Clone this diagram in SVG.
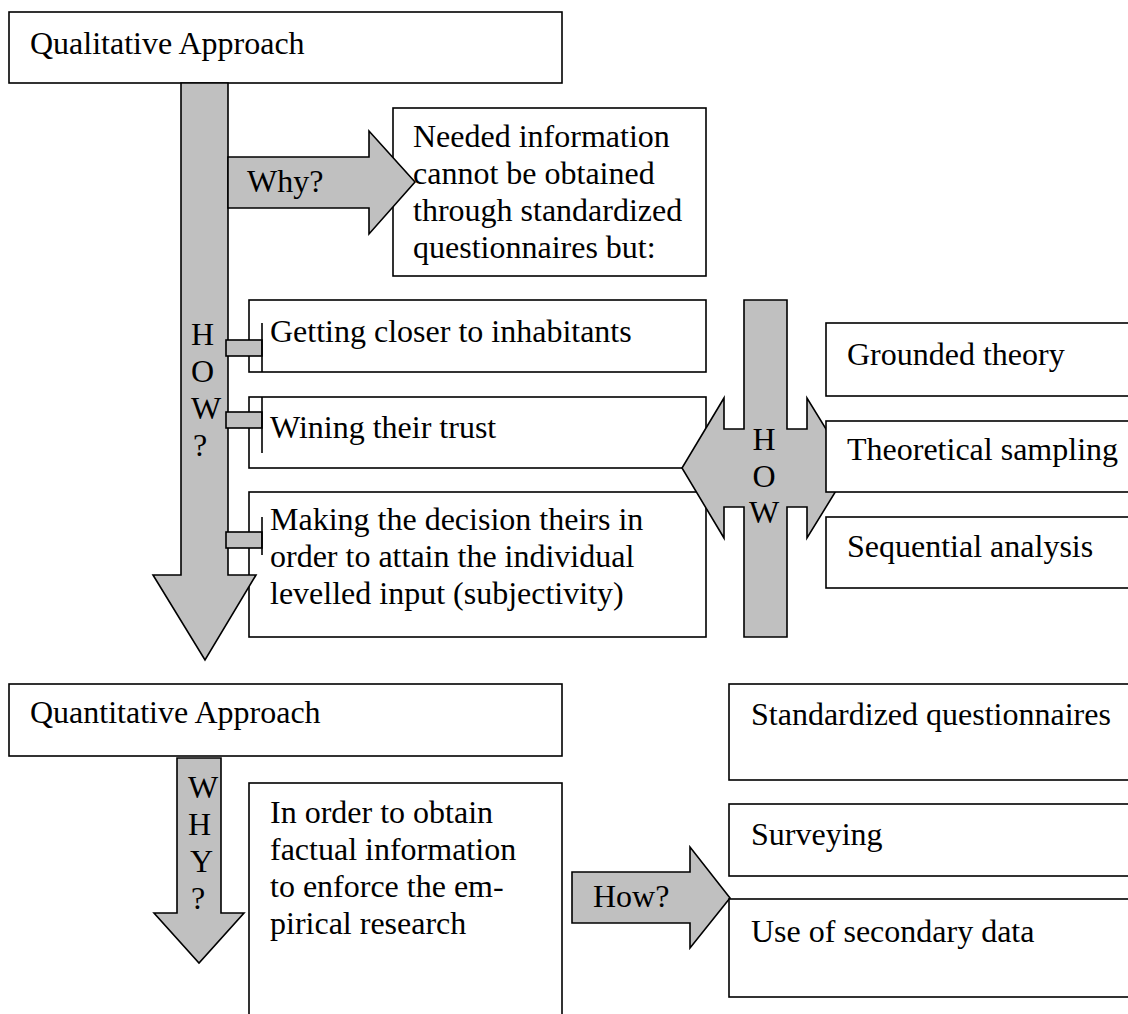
<svg xmlns="http://www.w3.org/2000/svg" width="1128" height="1014" viewBox="0 0 1128 1014">
<style>
.box{fill:#fff;stroke:#000;stroke-width:1.6}
.arr{fill:#c0c0c0;stroke:#000;stroke-width:1.6;stroke-linejoin:miter}
.ln{fill:none;stroke:#000;stroke-width:1.6}
text{font-family:"Liberation Serif","Times New Roman",serif;font-size:32px;fill:#000}
.mid{text-anchor:middle}
</style>
<rect width="1128" height="1014" fill="#fff"/>

<g id="qualitative">
<rect class="box" x="9" y="12" width="553" height="71"/>
<text x="30" y="54">Qualitative Approach</text>
</g>
<g id="needed">
<rect class="box" x="393" y="108" width="313" height="168"/>
<text x="413" y="147">Needed information</text>
<text x="413" y="184">cannot be obtained</text>
<text x="413" y="221">through standardized</text>
<text x="413" y="258">questionnaires but:</text>
</g>
<g id="getting">
<rect class="box" x="249" y="300" width="457" height="72"/>
<text x="270" y="342">Getting closer to inhabitants</text>
</g>
<g id="wining">
<rect class="box" x="249" y="397" width="457" height="71"/>
<text x="270" y="438">Wining their trust</text>
</g>
<g id="making">
<rect class="box" x="249" y="492" width="457" height="145"/>
<text x="270" y="530">Making the decision theirs in</text>
<text x="270" y="567">order to attain the individual</text>
<text x="270" y="604">levelled input (subjectivity)</text>
</g>

<g id="connectors">
<g id="how-down">
<polygon class="arr" points="181,83 228,83 228,575 256,575 205,660 153,575 181,575"/>
<text x="191" y="345">H</text>
<text x="191" y="382">O</text>
<text x="191" y="419">W</text>
<text x="193" y="456">?</text>
<rect class="arr" x="226" y="340" width="36" height="16"/>
<rect class="arr" x="226" y="412" width="36" height="16"/>
<rect class="arr" x="226" y="532" width="36" height="16"/>
<line class="ln" x1="262" y1="323" x2="262" y2="372"/>
<line class="ln" x1="262" y1="397" x2="262" y2="453"/>
<line class="ln" x1="262" y1="517" x2="262" y2="555"/>
</g>
<g id="why-right">
<polygon class="arr" points="228,157 369,157 369,131 415,182 369,234 369,208 228,208"/>
<text x="247" y="192">Why?</text>
</g>
<g id="how-cross">
<polygon class="arr" points="744,300 787,300 787,429 807,429 807,398 850,468 807,538 807,507 787,507 787,637 744,637 744,507 724,507 724,538 682,468 724,398 724,429 744,429"/>
<text class="mid" x="764" y="450">H</text>
<text class="mid" x="764" y="487">O</text>
<text class="mid" x="764" y="523">W</text>
</g>
<g id="why-down">
<polygon class="arr" points="177,758 221,758 221,913 244,913 199,963 154,913 177,913"/>
<text x="188" y="798">W</text>
<text x="188" y="835">H</text>
<text x="190" y="872">Y</text>
<text x="191" y="909">?</text>
</g>
<g id="how-right">
<polygon class="arr" points="572,872 690,872 690,847 730,898 690,948 690,923 572,923"/>
<text x="593" y="907">How?</text>
</g>
</g>

<g id="grounded">
<rect class="box" x="826" y="323" width="320" height="73"/>
<text x="847" y="365">Grounded theory</text>
</g>
<g id="theoretical">
<rect class="box" x="826" y="421" width="320" height="71"/>
<text x="847" y="460">Theoretical sampling</text>
</g>
<g id="sequential">
<rect class="box" x="826" y="517" width="320" height="71"/>
<text x="847" y="557">Sequential analysis</text>
</g>

<g id="quantitative">
<rect class="box" x="9" y="684" width="553" height="72"/>
<text x="30" y="723">Quantitative Approach</text>
</g>
<g id="inorder">
<rect class="box" x="249" y="783" width="313" height="260"/>
<text x="270" y="823">In order to obtain</text>
<text x="270" y="860">factual information</text>
<text x="270" y="897">to enforce the em-</text>
<text x="270" y="934">pirical research</text>
</g>
<g id="standardized">
<rect class="box" x="729" y="684" width="420" height="96"/>
<text x="751" y="725">Standardized questionnaires</text>
</g>
<g id="surveying">
<rect class="box" x="729" y="804" width="420" height="72"/>
<text x="751" y="845">Surveying</text>
</g>
<g id="secondary">
<rect class="box" x="729" y="899" width="420" height="98"/>
<text x="751" y="942">Use of secondary data</text>
</g>
</svg>
